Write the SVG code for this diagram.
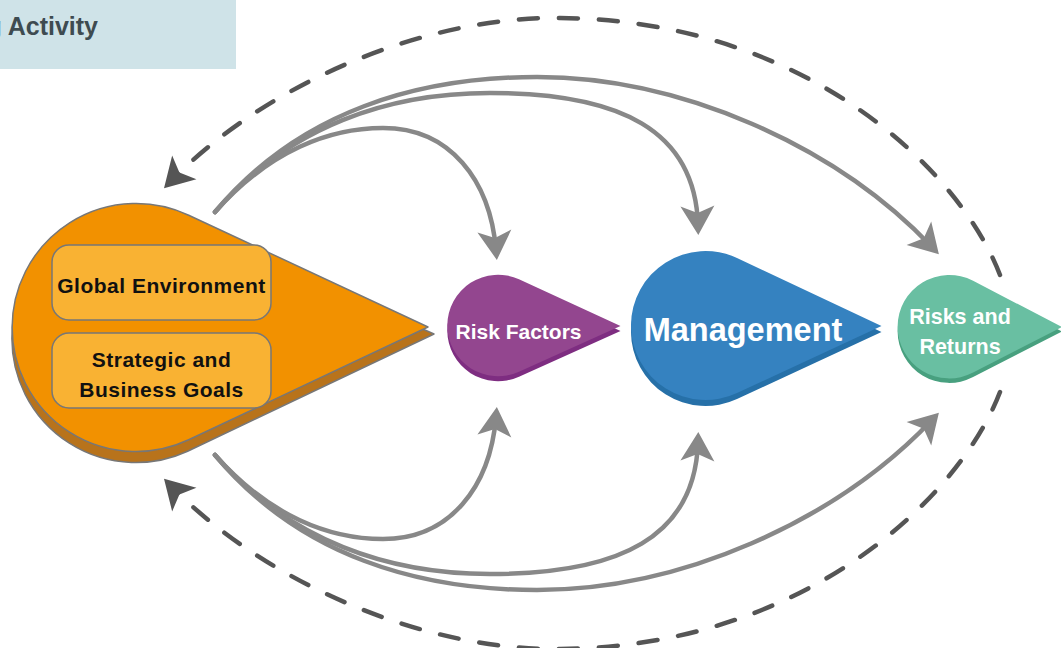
<svg xmlns="http://www.w3.org/2000/svg" width="1061" height="648" viewBox="0 0 1061 648">
<style>
  .lbl { font-family: "Liberation Sans", Arial, sans-serif; font-weight: bold; text-anchor: middle; }
  .dark { fill: #111111; font-size: 21px; letter-spacing: 0.5px; }
  .white { fill: #ffffff; }
  .solid { fill: none; stroke: #888888; stroke-width: 4.5; stroke-linecap: round; }
  .dash { fill: none; stroke: #555555; stroke-width: 4.5; stroke-linecap: round; stroke-dasharray: 19 21; }
  .ostroke { stroke: #777777; stroke-width: 1.5; stroke-linejoin: round; }
</style>
<defs>
  <marker id="ag" markerUnits="userSpaceOnUse" orient="auto" refX="0" refY="0" markerWidth="60" markerHeight="60" overflow="visible">
    <path d="M10 0 L-19 -17 L-12 0 L-19 17 Z" fill="#888888"/>
  </marker>
  <marker id="ad" markerUnits="userSpaceOnUse" orient="auto" refX="0" refY="0" markerWidth="60" markerHeight="60" overflow="visible">
    <path d="M10 0 L-19 -17 L-12 0 L-19 17 Z" fill="#555555"/>
  </marker>
</defs>
<rect width="1061" height="648" fill="#ffffff"/>

<g id="title">
  <rect x="0" y="0" width="236" height="69" fill="#cfe3e8"/>
  <text x="98" y="35" font-family="Liberation Sans, Arial, sans-serif" font-weight="bold" font-size="25" fill="#3e4b50" text-anchor="end">g Activity</text>
</g>

<g id="connectors">
  <path class="dash" d="M1000 275 C960 170 805 20 560 18 C430 16 270 80 171 181" marker-end="url(#ad)"/>
  <path class="dash" d="M1000 392 C960 497 805 647 560 649 C430 651 270 587 171 486" marker-end="url(#ad)"/>
  <path class="solid" d="M215 212 C270 150 330 128 383 128 C450 128 490 180 496 250" marker-end="url(#ag)"/>
  <path class="solid" d="M215 212 C290 125 390 93 490 93 C620 93 695 130 698 225" marker-end="url(#ag)"/>
  <path class="solid" d="M215 212 C300 110 420 77 537 77 C680 77 835 145 932 247" marker-end="url(#ag)"/>
  <path class="solid" d="M215 455 C270 517 330 539 383 539 C450 539 490 487 496 417" marker-end="url(#ag)"/>
  <path class="solid" d="M215 455 C290 542 390 574 490 574 C620 574 695 537 698 442" marker-end="url(#ag)"/>
  <path class="solid" d="M215 455 C300 557 420 590 537 590 C680 590 835 522 932 420" marker-end="url(#ag)"/>
</g>

<g id="node-context">
  <path class="ostroke" d="M434 334 L187.6 225.8 A124 124 0 1 0 187.6 451.2 Z" fill="#b8731b"/>
  <path class="ostroke" d="M428 327 L188.7 215.2 A124 124 0 1 0 188.7 439.8 Z" fill="#f29100"/>
  <g id="node-global-environment">
    <rect class="ostroke" x="52" y="245" width="219" height="75" rx="17" fill="#f9b233"/>
    <text class="lbl dark" x="161.5" y="293">Global Environment</text>
  </g>
  <g id="node-strategic-goals">
    <rect class="ostroke" x="52" y="333" width="219" height="75" rx="17" fill="#f9b233"/>
    <text class="lbl dark" x="161.5" y="367">Strategic and</text>
    <text class="lbl dark" x="161.5" y="397">Business Goals</text>
  </g>
</g>

<g id="node-risk-factors">
  <path d="M620.5 326 L519 279.35 A50.7 50.7 0 1 0 519 371.65 Z" fill="#7e2d81" transform="translate(0,5)"/>
  <path d="M620.5 326 L519 279.35 A50.7 50.7 0 1 0 519 371.65 Z" fill="#93468f"/>
  <text class="lbl white" x="518.5" y="339" font-size="21">Risk Factors</text>
</g>

<g id="node-management">
  <path d="M881.5 326 L737 258 A74.5 74.5 0 1 0 737 393 Z" fill="#2670a8" transform="translate(0,6)"/>
  <path d="M881.5 326 L737 258 A74.5 74.5 0 1 0 737 393 Z" fill="#3582c0"/>
  <text class="lbl white" x="743" y="341" font-size="32.5">Management</text>
</g>

<g id="node-risks-returns">
  <path d="M1062 327 L973.1 280.8 A51.7 51.7 0 1 0 973.1 372.6 Z" fill="#48a07f" transform="translate(0,4.5)"/>
  <path d="M1062 327 L973.1 280.8 A51.7 51.7 0 1 0 973.1 372.6 Z" fill="#69bfa2"/>
  <text class="lbl white" x="960" y="323.5" font-size="21.5">Risks and</text>
  <text class="lbl white" x="960" y="353.5" font-size="21.5">Returns</text>
</g>
</svg>
